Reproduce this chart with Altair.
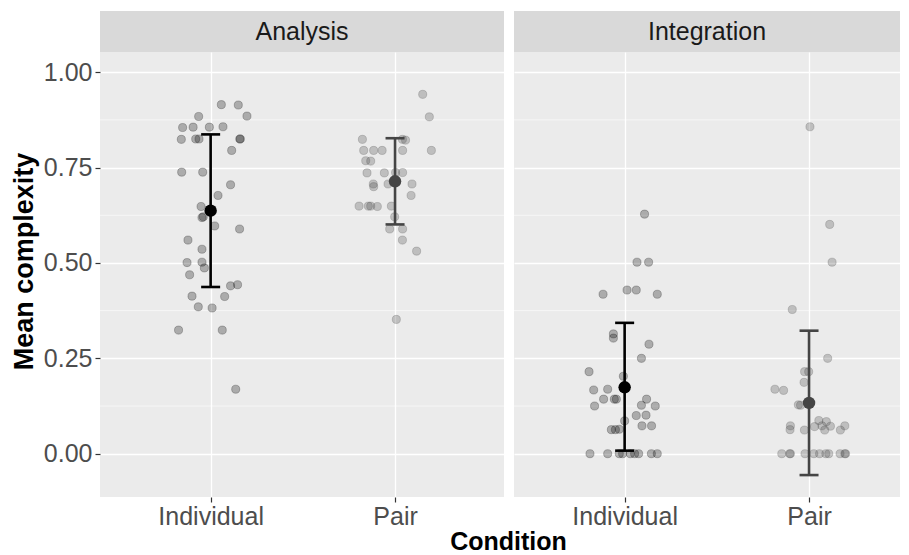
import altair as alt
import pandas as pd

tasks = ["Analysis", "Integration"]
conditions = ["Individual", "Pair"]

analysis_individual = [0.915, 0.914, 0.884, 0.885, 0.855, 0.856, 0.856, 0.857, 0.824, 0.825,
                       0.825, 0.825, 0.825, 0.795, 0.738, 0.738, 0.705, 0.677, 0.648, 0.621,
                       0.619, 0.597, 0.589, 0.560, 0.536, 0.501, 0.502, 0.487, 0.469, 0.440,
                       0.443, 0.413, 0.412, 0.385, 0.382, 0.324, 0.324, 0.169]
analysis_individual_jitter = [0.058, 0.150, -0.065, 0.197, -0.152, -0.095, -0.007, 0.067, -0.159, -0.081,
                              -0.063, 0.161, 0.158, 0.114, -0.157, -0.043, 0.108, 0.040, -0.052, -0.040,
                              -0.047, 0.022, 0.157, -0.123, -0.047, -0.128, -0.047, -0.034, -0.114, 0.108,
                              0.146, -0.101, 0.076, -0.067, 0.008, -0.174, 0.063, 0.136]

analysis_pair = [0.942, 0.883, 0.824, 0.824, 0.822, 0.795, 0.795, 0.795, 0.795, 0.795,
                 0.768, 0.767, 0.736, 0.736, 0.737, 0.737, 0.707, 0.700, 0.707, 0.707,
                 0.677, 0.649, 0.649, 0.649, 0.648, 0.649, 0.621, 0.589, 0.589, 0.560,
                 0.531, 0.352]
analysis_pair_jitter = [0.150, 0.186, -0.177, 0.040, 0.057, -0.170, -0.116, -0.070, 0.041, 0.197,
                        -0.159, -0.132, -0.152, -0.058, 0.003, 0.041, -0.118, -0.116, -0.038, 0.092,
                        0.087, -0.195, -0.145, -0.132, -0.096, -0.020, -0.002, -0.029, 0.041, 0.040,
                        0.117, 0.007]

integration_individual = [0.502, 0.502, 0.418, 0.429, 0.429, 0.418, 0.628, 0.314, 0.303, 0.287,
                          0.250, 0.215, 0.203, 0.167, 0.169, 0.143, 0.143, 0.143, 0.143, 0.127,
                          0.125, 0.125, 0.100, 0.101, 0.086, 0.073, 0.073, 0.063, 0.063, 0.064,
                          0.0, 0.0, 0.0, 0.0, 0.0, 0.0, 0.0, 0.0, 0.0]
integration_individual_jitter = [0.067, 0.130, -0.117, 0.013, 0.063, 0.177, 0.108, -0.061, -0.061, 0.132,
                                 0.091, -0.193, -0.007, -0.168, -0.092, -0.114, -0.056, -0.045, 0.119, 0.091,
                                 -0.163, 0.166, 0.063, 0.116, 0.000, 0.094, 0.146, -0.072, -0.050, -0.029,
                                 -0.188, -0.092, -0.029, -0.011, 0.031, 0.054, 0.076, 0.145, 0.177]

integration_pair = [0.857, 0.601, 0.502, 0.378, 0.250, 0.215, 0.215, 0.187, 0.169, 0.166,
                    0.128, 0.127, 0.073, 0.063, 0.062, 0.071, 0.087, 0.084, 0.073, 0.062,
                    0.072, 0.062, 0.073, 0.0, 0.0, 0.0, 0.0, 0.0, 0.0, 0.0,
                    0.0, 0.0, 0.0, 0.0]
integration_pair_jitter = [0.005, 0.112, 0.125, -0.091, 0.101, -0.024, -0.002, -0.027, -0.185, -0.138,
                           -0.058, -0.046, -0.101, -0.103, -0.025, 0.030, 0.053, 0.094, 0.070, 0.085,
                           0.116, 0.170, 0.194, -0.148, -0.105, -0.101, -0.022, 0.026, 0.057, 0.091,
                           0.107, 0.168, 0.194, 0.198]

summary_task = ["Analysis", "Analysis", "Integration", "Integration"]
summary_condition = ["Individual", "Pair", "Individual", "Pair"]
means = [0.637, 0.714, 0.174, 0.133]
lower = [0.437, 0.601, 0.008, -0.056]
upper = [0.837, 0.827, 0.343, 0.3225]

y_breaks = [0.0, 0.25, 0.5, 0.75, 1.0]
minor_breaks = [0.125, 0.375, 0.625, 0.875]

# ---- build tables ----
groups = [
    ("Analysis", "Individual", analysis_individual, analysis_individual_jitter),
    ("Analysis", "Pair", analysis_pair, analysis_pair_jitter),
    ("Integration", "Individual", integration_individual, integration_individual_jitter),
    ("Integration", "Pair", integration_pair, integration_pair_jitter),
]
rows = []
for t, c, vals, jit in groups:
    for v, j in zip(vals, jit):
        rows.append({"task": t, "condition": c, "value": v,
                     "xpos": conditions.index(c) + 1 + j})
points = pd.DataFrame(rows)

summary = pd.DataFrame({
    "task": summary_task, "condition": summary_condition,
    "mean": means, "lower": lower, "upper": upper,
})
summary["xc"] = summary["condition"].map(lambda c: conditions.index(c) + 1)

minor_df = pd.DataFrame({"v": minor_breaks})

FONT = "Liberation Sans"
H = 445
STEP = 184.4
ydom = [-0.1135, 1.053]
cscale = alt.Scale(domain=conditions, range=["#000000", "#454545"])


def panel(task, width, first):
    xscale = alt.Scale(domain=[0.4, 0.4 + width / STEP], nice=False, zero=False)
    yscale = alt.Scale(domain=ydom, nice=False, zero=False)
    xaxis = alt.Axis(values=[1, 2],
                     labelExpr="datum.value == 1 ? 'Individual' : 'Pair'",
                     grid=True, gridColor="white", gridWidth=1.3,
                     domain=False, tickColor="#333333", tickSize=5, tickWidth=1.2,
                     labelFontSize=25, labelColor="#4D4D4D", labelPadding=2,
                     labelFont=FONT,
                     title="Condition" if first else None,
                     titleFontSize=25, titleFontWeight="bold", titleColor="black",
                     titleFont=FONT, titlePadding=0, titleX=408, titleAlign="center")
    if first:
        yaxis = alt.Axis(values=y_breaks, format=".2f", title="Mean complexity",
                         titleFontSize=27, titleFontWeight="bold", titleColor="black",
                         titleFont=FONT, titlePadding=5, titleY=209,
                         labelFontSize=25, labelColor="#4D4D4D", labelFont=FONT,
                         labelPadding=3, tickColor="#333333", tickSize=5, tickWidth=1.2,
                         domain=False, grid=True, gridColor="white", gridWidth=1.3)
    else:
        yaxis = alt.Axis(values=y_breaks, labels=False, ticks=False, domain=False,
                         title=None, grid=True, gridColor="white", gridWidth=1.3)

    def X(f):
        return alt.X(f, type="quantitative", scale=xscale, axis=xaxis)

    def Y(f):
        return alt.Y(f, type="quantitative", scale=yscale, axis=yaxis)

    pts = points[points.task == task]
    sm = summary[summary.task == task]
    lab = pd.DataFrame({"task": [task]})

    strip = alt.Chart(lab).mark_rect(color="#D9D9D9").encode(
        x=alt.value(0), x2=alt.value(width), y=alt.value(-41), y2=alt.value(0))
    strip_text = alt.Chart(lab).mark_text(fontSize=25, color="#1A1A1A", font=FONT,
                                          align="center", baseline="middle").encode(
        x=alt.value(width / 2), y=alt.value(-20), text="task:N")

    minor = alt.Chart(minor_df).mark_rule(color="white", strokeWidth=0.6).encode(y=Y("v"))

    dots = alt.Chart(pts).mark_circle(size=66, opacity=1, fillOpacity=0.27,
                                      strokeOpacity=0.3, strokeWidth=0.8).encode(
        x=X("xpos"), y=Y("value"),
        fill=alt.Fill("condition:N", scale=cscale, legend=None),
        stroke=alt.Stroke("condition:N", scale=cscale, legend=None))

    bars = alt.Chart(sm).mark_rule(strokeWidth=2.6, opacity=1).encode(
        x=X("xc"), y=Y("lower"), y2="upper",
        color=alt.Color("condition:N", scale=cscale, legend=None))
    cap_lo = alt.Chart(sm).mark_tick(orient="horizontal", size=19, thickness=2.6, opacity=1).encode(
        x=X("xc"), y=Y("lower"), color=alt.Color("condition:N", scale=cscale, legend=None))
    cap_hi = alt.Chart(sm).mark_tick(orient="horizontal", size=19, thickness=2.6, opacity=1).encode(
        x=X("xc"), y=Y("upper"), color=alt.Color("condition:N", scale=cscale, legend=None))
    mean_pt = alt.Chart(sm).mark_circle(size=155, opacity=1).encode(
        x=X("xc"), y=Y("mean"), color=alt.Color("condition:N", scale=cscale, legend=None))

    return alt.layer(minor, dots, bars, cap_lo, cap_hi, mean_pt, strip, strip_text).properties(
        width=width, height=H)


left = panel("Analysis", 404, True)
right = panel("Integration", 386, False)

chart = alt.hconcat(left, right, spacing=10, bounds="flush").properties(
    padding={"left": 2, "top": 3, "right": 0, "bottom": 0}
).configure(font=FONT).configure_view(fill="#EBEBEB", stroke=None)

chart.save("out.html", embed_options={"renderer": "svg", "actions": False})
